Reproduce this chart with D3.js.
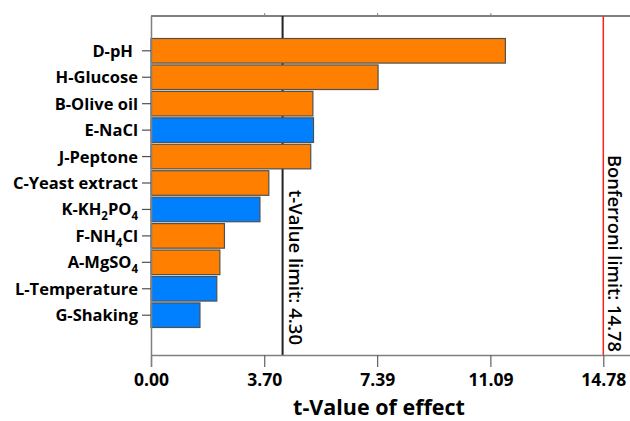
<!DOCTYPE html>
<html>
<head>
<meta charset="utf-8">
<script src="https://cdn.jsdelivr.net/npm/d3@7"></script>
<style>
  body { margin: 0; background: #fff; }
  text { font-family: "Open Sans", sans-serif; }
</style>
</head>
<body>
<div id="chart"></div>
<script>
// effects, largest first
const factors = ["D-pH", "H-Glucose", "B-Olive oil", "E-NaCl", "J-Peptone", "C-Yeast extract",
                 "K-KH2PO4", "F-NH4Cl", "A-MgSO4", "L-Temperature", "G-Shaking"];
const tValues = [11.58, 7.42, 5.29, 5.31, 5.22, 3.85, 3.56, 2.40, 2.25, 2.15, 1.60];
const signs   = ["pos", "pos", "pos", "neg", "pos", "pos", "neg", "pos", "pos", "neg", "neg"];
const tickValues = [0, 3.70, 7.39, 11.09, 14.78];
const tLimit = 4.30;
const bonferroni = 14.78;

const W = 630, H = 421;
const m = { left: 151, top: 16, bottom: 355 };

const svg = d3.select("#chart").append("svg").attr("width", W).attr("height", H);

const x = d3.scaleLinear().domain([0, 14.78]).range([m.left, 603.3]);
const y = d3.scaleBand().domain(factors).range([38.5, 327.5]).paddingInner(0.07).paddingOuter(0.0);

// frame: top line
svg.append("line").attr("x1", m.left).attr("x2", W).attr("y1", m.top).attr("y2", m.top)
  .attr("stroke", "#808080").attr("stroke-width", 2);

// limit lines (under the bars)
svg.append("line").attr("x1", x(tLimit)).attr("x2", x(tLimit)).attr("y1", m.top).attr("y2", m.bottom)
  .attr("stroke", "#222").attr("stroke-width", 2);
svg.append("line").attr("x1", x(bonferroni)).attr("x2", x(bonferroni)).attr("y1", m.top).attr("y2", m.bottom)
  .attr("stroke", "#ff2020").attr("stroke-width", 1.5);

// bars
svg.selectAll("rect.bar").data(factors).join("rect")
  .attr("class", "bar")
  .attr("x", x(0))
  .attr("y", d => y(d))
  .attr("width", (d, i) => x(tValues[i]) - x(0))
  .attr("height", y.bandwidth())
  .attr("fill", (d, i) => signs[i] === "pos" ? "#ff8000" : "#0080ff")
  .attr("stroke", "#505050").attr("stroke-width", 1.2);

// top ticks
const topAxis = svg.append("g").attr("transform", `translate(0,${m.top})`)
  .call(d3.axisTop(x).tickValues(tickValues.slice(1, 4)).tickSize(3).tickFormat(""));
topAxis.select(".domain").remove();
topAxis.selectAll("line").attr("stroke", "#808080");

// bottom axis
const bottom = svg.append("g").attr("transform", `translate(0,${m.bottom})`)
  .call(d3.axisBottom(x).tickValues(tickValues).tickSize(12).tickSizeOuter(0)
    .tickFormat(d3.format(".2f")));
bottom.select(".domain").attr("stroke", "#808080").attr("stroke-width", 1.5)
  .attr("d", `M${m.left},0.5H${W}`);
bottom.selectAll("line").attr("stroke", "#606060").attr("stroke-width", 1.2);
bottom.selectAll("text").attr("dy", 0).attr("y", 31)
  .style("font-size", "17.5px").style("font-weight", "bold").attr("fill", "#000");

// left axis
const left = svg.append("g").attr("transform", `translate(${m.left},0)`)
  .call(d3.axisLeft(y).tickSize(9).tickSizeOuter(0).tickFormat(""));
left.select(".domain").attr("stroke", "#808080").attr("stroke-width", 1.5)
  .attr("d", `M0.5,${m.top}V${m.bottom + 12}`);
left.selectAll("line").attr("stroke", "#505050").attr("stroke-width", 1.2);

// category labels with subscripts
left.selectAll(".tick").append("text")
  .attr("x", -13).attr("y", 6)
  .attr("text-anchor", "end")
  .attr("fill", "#000")
  .style("font-size", "16.5px").style("font-weight", "bold")
  .each(function(d) {
    const t = d3.select(this);
    const parts = d.split(/(\d)/);
    let shifted = false;
    parts.forEach(p => {
      if (p === "") return;
      if (/^\d$/.test(p)) {
        t.append("tspan").text(p).style("font-size", "11.5px").attr("dy", shifted ? null : 5);
        shifted = true;
      } else {
        const s = t.append("tspan").text(p);
        if (shifted) s.attr("dy", -5);
        shifted = false;
      }
    });
    if (d === "D-pH") t.attr("x", -18);
  });

// axis title
svg.append("text").attr("x", 379).attr("y", 415).attr("text-anchor", "middle")
  .style("font-size", "21.5px").style("font-weight", "bold").text("t-Value of effect");

// limit labels
svg.append("text")
  .attr("transform", `translate(${x(tLimit) + 6},190) rotate(90)`)
  .style("font-size", "18.5px").style("font-weight", 600).attr("fill", "#000")
  .text("t-Value limit: " + tLimit.toFixed(2));
svg.append("text")
  .attr("transform", `translate(${x(bonferroni) + 4.5},155) rotate(90)`)
  .style("font-size", "18.3px").style("font-weight", 600).attr("fill", "#000")
  .text("Bonferroni limit: " + bonferroni.toFixed(2));
</script>
</body>
</html>
